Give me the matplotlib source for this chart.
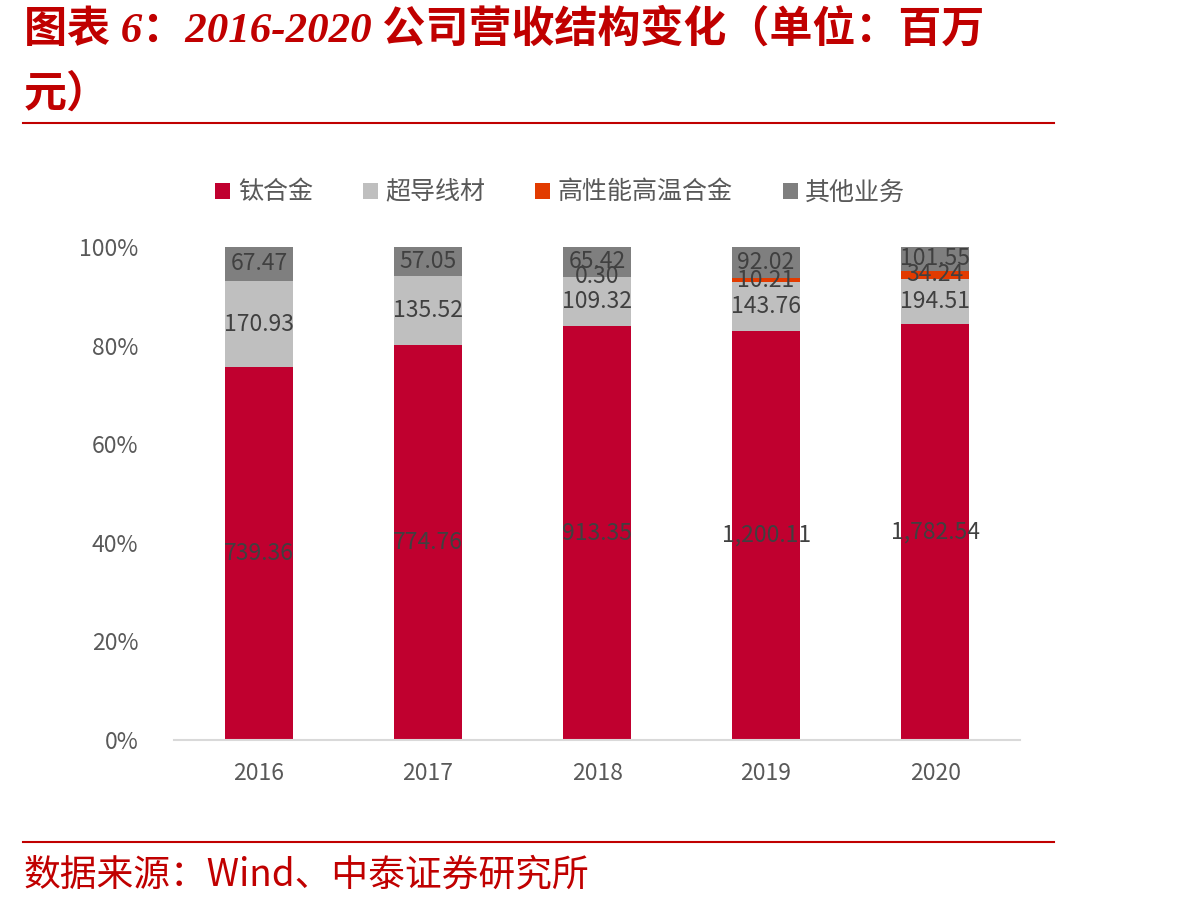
import numpy as np
import matplotlib.pyplot as plt
from matplotlib.lines import Line2D

plt.rcParams['font.family'] = ['Noto Sans CJK SC', 'DejaVu Sans']

years = ["2016", "2017", "2018", "2019", "2020"]
series_names = ["钛合金", "超导线材", "高性能高温合金", "其他业务"]
titanium = [739.36, 774.76, 913.35, 1200.11, 1782.54]
supercond = [170.93, 135.52, 109.32, 143.76, 194.51]
hightemp = [0.0, 0.0, 0.30, 10.21, 34.24]
other = [67.47, 57.05, 65.42, 92.02, 101.55]
colors = ["#C0002F", "#BFBFBF", "#E23B00", "#7F7F7F"]

data = np.array([titanium, supercond, hightemp, other])
totals = data.sum(axis=0)
pct = data / totals * 100

fig = plt.figure(figsize=(11.87, 9.08), dpi=100)
ax = fig.add_axes([0.147, 0.185, 0.712, 0.543])

x = np.arange(len(years))
bottom = np.zeros(len(years))
for i, name in enumerate(series_names):
    ax.bar(x, pct[i], 0.4, bottom=bottom, color=colors[i], label=name)
    # value labels in the middle of each segment (skip empty ones)
    for j in range(len(years)):
        if data[i, j] > 0:
            ax.text(x[j], bottom[j] + pct[i, j] / 2, f"{data[i, j]:,.2f}",
                    ha="center", va="center", fontsize=16.5, color="#404040")
    bottom += pct[i]

ax.set_xlim(-0.5, len(years) - 0.5)
ax.set_ylim(0, 100)
ax.set_yticks(np.arange(0, 101, 20))
ax.set_yticklabels([f"{v}%" for v in range(0, 101, 20)])
ax.set_xticks(x)
ax.set_xticklabels(years)
ax.tick_params(length=0, labelsize=16.5, labelcolor="#595959")
ax.tick_params(axis="y", pad=26)
ax.tick_params(axis="x", pad=16)
for s in ["top", "right", "left"]:
    ax.spines[s].set_visible(False)
ax.spines["bottom"].set_color("#D9D9D9")
ax.spines["bottom"].set_linewidth(1.5)

leg = fig.legend(loc="center", bbox_to_anchor=(0.472, 0.788), ncol=4, frameon=False,
                 fontsize=18, handlelength=0.6, handleheight=0.6, handletextpad=0.3,
                 columnspacing=2.0)
for t in leg.get_texts():
    t.set_color("#595959")

title = "图表 6：2016-2020 公司营收结构变化（单位：百万\n元）"
fig.text(0.02, 0.99, title, ha="left", va="top", fontsize=31, color="#C00000",
         fontweight="bold", style="italic", linespacing=1.75,
         family=["Liberation Serif", "Noto Sans CJK SC"])
fig.add_artist(Line2D([0.019, 0.888], [1 - 123 / 908] * 2, color="#C00000", lw=1.5))
fig.add_artist(Line2D([0.019, 0.888], [1 - 842 / 908] * 2, color="#C00000", lw=1.5))
fig.text(0.02, 1 - 875 / 908, "数据来源：Wind、中泰证券研究所", ha="left", va="center",
         fontsize=26.5, color="#C00000")

fig.savefig("out.png", dpi=100)
